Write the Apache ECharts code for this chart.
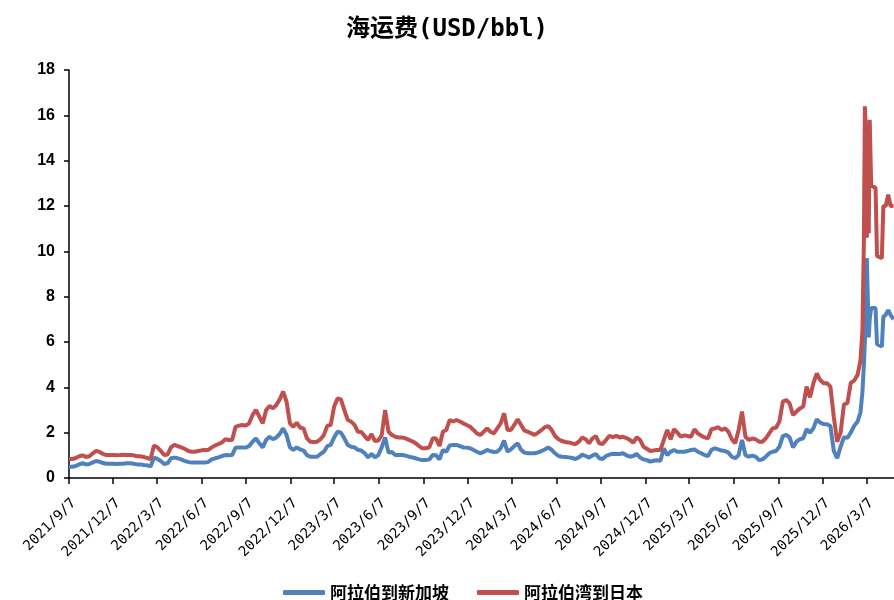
<!DOCTYPE html>
<html><head><meta charset="utf-8">
<script src="https://cdn.jsdelivr.net/npm/echarts@6/dist/echarts.min.js"></script>
<style>html,body{margin:0;padding:0;background:#fff}#c{width:894px;height:600px}</style>
</head><body><div id="c"></div>
<script>
// ---------- data ----------
const titleText = '海运费(USD/bbl)';
const seriesNames = ['阿拉伯到新加坡', '阿拉伯湾到日本'];
const axisStart = [2021, 9, 7];
const axisEnd = [2026, 5, 3];
const labelDay = 7;
const labelMonths = [3, 6, 9, 12];
const yMin = 0, yMax = 18, yStep = 2;

// weekly readings, one value per week starting 2021/9/7
const weeklyBlue = [
0.5,0.5,0.53,0.6,0.65,0.6,0.62,0.69,0.75,0.72,
0.66,0.63,0.63,0.63,0.62,0.63,0.63,0.65,0.65,0.63,
0.6,0.6,0.57,0.56,0.51,0.9,0.84,0.75,0.62,0.65,
0.87,0.9,0.87,0.82,0.76,0.71,0.68,0.68,0.68,0.68,
0.68,0.71,0.82,0.87,0.91,0.97,1.01,1.0,1.01,1.34,
1.35,1.35,1.34,1.41,1.6,1.75,1.53,1.35,1.68,1.82,
1.71,1.79,1.94,2.19,1.9,1.35,1.24,1.35,1.26,1.21,
1.01,0.94,0.94,0.94,1.06,1.16,1.41,1.46,1.79,2.04,
2.0,1.75,1.46,1.38,1.35,1.24,1.21,1.09,0.91,1.06,
0.91,1.01,1.35,1.79,1.12,1.15,1.01,1.01,1.01,0.99,
0.94,0.91,0.87,0.82,0.79,0.79,0.82,1.01,1.0,0.82,
1.24,1.16,1.44,1.46,1.46,1.41,1.35,1.34,1.31,1.24,
1.16,1.09,1.15,1.24,1.18,1.15,1.16,1.31,1.65,1.16,
1.26,1.41,1.53,1.24,1.12,1.09,1.09,1.09,1.13,1.19,
1.26,1.35,1.24,1.09,0.97,0.94,0.93,0.91,0.88,0.84,
0.91,1.03,0.97,0.9,0.99,1.06,0.87,0.84,0.97,1.03,
1.07,1.06,1.06,1.09,1.0,0.94,0.97,1.06,0.91,0.82,
0.79,0.72,0.76,0.78,0.76,1.31,1.01,1.16,1.24,1.16,
1.16,1.16,1.19,1.24,1.26,1.16,1.09,1.01,0.97,1.24,
1.31,1.26,1.21,1.19,1.12,0.94,0.87,1.01,1.68,1.01,
0.94,0.99,0.94,0.79,0.82,0.94,1.09,1.16,1.19,1.38,
1.85,1.9,1.79,1.35,1.6,1.71,1.75,2.15,2.0,2.19,
2.59,2.44,2.38,2.37,2.29,1.2,0.87,1.38,1.8,1.77,
2.0,2.3,2.49
];
const weeklyRed = [
0.84,0.84,0.88,0.96,1.0,0.93,0.96,1.09,1.2,1.15,
1.06,1.01,1.01,1.01,1.0,1.01,1.03,1.01,1.01,1.0,
0.96,0.96,0.93,0.88,0.84,1.44,1.35,1.2,1.01,1.04,
1.35,1.46,1.41,1.35,1.29,1.2,1.16,1.16,1.19,1.22,
1.24,1.24,1.35,1.44,1.5,1.57,1.71,1.68,1.68,2.26,
2.31,2.34,2.31,2.41,2.78,3.0,2.71,2.41,3.0,3.18,
3.07,3.22,3.47,3.81,3.37,2.41,2.26,2.44,2.22,2.19,
1.75,1.6,1.59,1.6,1.71,1.9,2.31,2.34,3.15,3.51,
3.47,3.0,2.56,2.49,2.34,2.04,2.03,1.85,1.68,1.94,
1.63,1.65,1.9,3.0,2.04,1.9,1.82,1.79,1.79,1.75,
1.68,1.62,1.53,1.41,1.31,1.31,1.35,1.75,1.74,1.41,
2.04,2.12,2.56,2.49,2.56,2.49,2.41,2.34,2.26,2.12,
1.97,1.9,2.04,2.19,2.04,1.97,2.19,2.41,2.85,2.12,
2.12,2.34,2.59,2.34,2.09,2.04,1.97,1.9,2.0,2.12,
2.24,2.29,2.12,1.85,1.71,1.63,1.59,1.57,1.53,1.49,
1.6,1.79,1.71,1.53,1.75,1.85,1.53,1.5,1.68,1.86,
1.8,1.86,1.79,1.82,1.76,1.68,1.56,1.79,1.68,1.38,
1.29,1.19,1.21,1.24,1.24,1.68,2.12,1.71,2.15,2.0,
1.82,1.88,1.85,1.82,2.15,1.97,1.87,1.79,1.75,2.15,
2.19,2.24,2.12,2.19,2.04,1.71,1.53,2.12,2.93,1.82,
1.68,1.74,1.71,1.6,1.6,1.75,1.97,2.19,2.22,2.49,
3.37,3.44,3.29,2.78,2.93,3.07,3.15,4.03,3.56,4.18,
4.62,4.32,4.18,4.18,4.03,2.7,1.6,2.0,3.25,3.3,
4.2,4.3,4.55
];
// finer readings for the 2026 spike
const lateDates = ['2026/2/23','2026/2/27','2026/3/2','2026/3/4','2026/3/6','2026/3/8','2026/3/10','2026/3/12','2026/3/14','2026/3/17','2026/3/26','2026/3/29','2026/4/8','2026/4/11','2026/4/16','2026/4/21','2026/4/26','2026/5/2'];
const lateBlue = [2.9,3.8,5.0,6.0,7.5,9.7,8.0,6.2,7.0,7.5,7.5,5.9,5.8,7.1,7.2,7.4,7.2,7.0];
const lateRed  = [5.2,6.5,10.5,16.4,15.5,10.6,12.0,10.8,15.8,12.9,12.8,9.8,9.7,12.0,12.0,12.5,12.0,12.0];

// ---------- build ----------
function fmt(d){ return d.getUTCFullYear() + '/' + (d.getUTCMonth()+1) + '/' + d.getUTCDate(); }
const categories = [];
for (let t = Date.UTC(axisStart[0], axisStart[1]-1, axisStart[2]); t <= Date.UTC(axisEnd[0], axisEnd[1]-1, axisEnd[2]); t += 86400000) {
  categories.push(fmt(new Date(t)));
}
function pairs(weekly, lateVals) {
  const out = weekly.map((v, i) => [categories[i*7], v]);
  lateDates.forEach((d, i) => out.push([d, lateVals[i]]));
  return out;
}
function isLabelDate(idx, val) {
  const p = String(val).split('/');
  return +p[2] === labelDay && labelMonths.indexOf(+p[1]) >= 0;
}
const colors = ['#4F81BD', '#C0504D'];
const chart = echarts.init(document.getElementById('c'), null, {renderer: 'canvas'});
chart.setOption({
  animation: false,
  backgroundColor: '#fff',
  title: {
    text: titleText, left: 'center', top: 13,
    textStyle: {fontSize: 24, fontWeight: 'bold', color: '#000', fontFamily: "'DejaVu Sans Mono','Noto Sans CJK SC'"}
  },
  legend: {
    left: 278, top: 579, itemWidth: 42, itemHeight: 5, itemGap: 28, icon: 'roundRect',
    textStyle: {fontSize: 17, fontWeight: 'bold', color: '#000', fontFamily: "'Noto Sans CJK SC'"},
    data: seriesNames
  },
  grid: {left: 69, right: 0, top: 70, bottom: 122, containLabel: false},
  xAxis: {
    type: 'category', data: categories, boundaryGap: false,
    axisLine: {lineStyle: {color: '#000', width: 1.5}},
    axisTick: {interval: isLabelDate, length: 6, lineStyle: {color: '#000', width: 1.5}},
    axisLabel: {
      interval: isLabelDate, rotate: 45, margin: 18, verticalAlign: 'top', align: 'right',
      fontSize: 14, color: '#000', fontFamily: "'DejaVu Sans Mono', monospace"
    },
    splitLine: {show: false}
  },
  yAxis: {
    type: 'value', min: yMin, max: yMax, interval: yStep,
    axisLine: {show: true, lineStyle: {color: '#000', width: 1.5}},
    axisTick: {show: true, length: 5, lineStyle: {color: '#000', width: 1.5}},
    axisLabel: {fontSize: 16, fontWeight: 'bold', color: '#000', margin: 14, fontFamily: "'Liberation Sans', Arial"},
    splitLine: {show: false}
  },
  series: [
    {name: seriesNames[0], type: 'line', data: pairs(weeklyBlue, lateBlue), showSymbol: false,
     lineStyle: {color: colors[0], width: 4}, itemStyle: {color: colors[0]}},
    {name: seriesNames[1], type: 'line', data: pairs(weeklyRed, lateRed), showSymbol: false,
     lineStyle: {color: colors[1], width: 4}, itemStyle: {color: colors[1]}}
  ]
});
</script></body></html>
